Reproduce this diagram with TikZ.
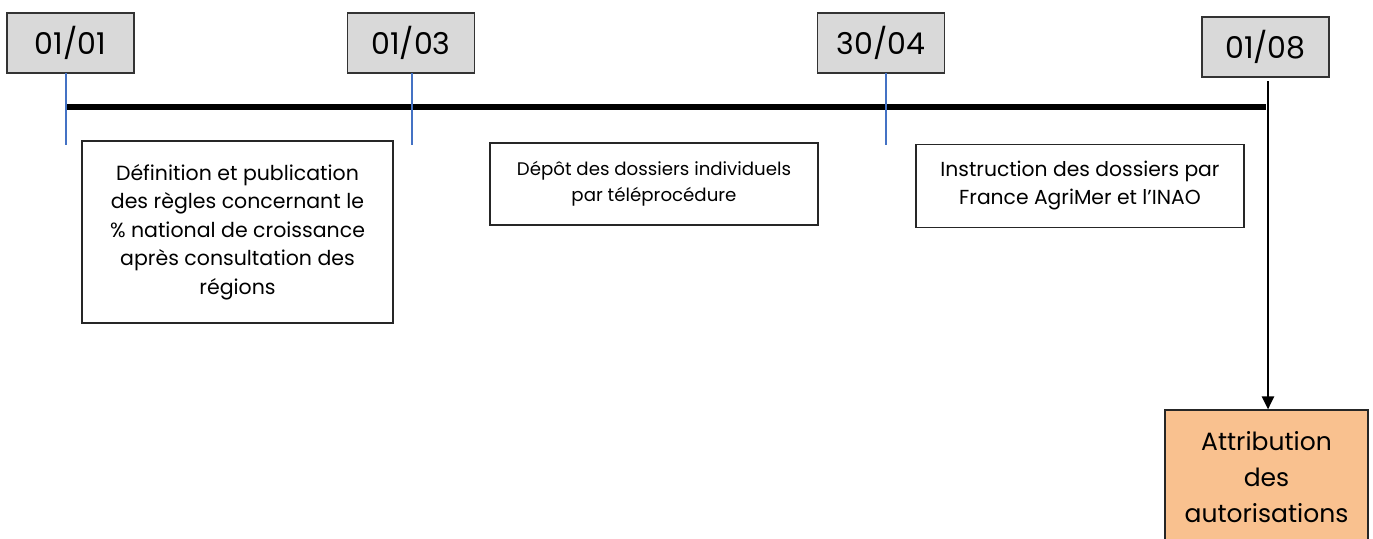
\documentclass[tikz,border=0pt]{standalone}
\usepackage{fontspec}
\setmainfont{Poppins}
\usepackage{tikz}
\usetikzlibrary{arrows.meta,positioning}
\definecolor{dategray}{HTML}{D9D9D9}
\definecolor{peach}{HTML}{F9C18F}
\definecolor{tickblue}{HTML}{4472C4}
\tikzset{
  datebox/.style={draw=black!80, line width=1.2pt, fill=dategray, minimum width=127pt, minimum height=60pt, inner sep=0pt, font=\fontsize{30}{36}\selectfont},
  stagebox/.style={draw=black!85, line width=1.2pt, align=center, inner sep=0pt},
  tick/.style={tickblue, line width=1.6pt},
}
\begin{document}
\begin{tikzpicture}[x=1pt,y=-1pt,>={Triangle[length=13pt,width=12pt]}]
\useasboundingbox (0,0) rectangle (1373,538);
\clip (0,0) rectangle (1373,538);
% Define the dates
\node[datebox] (d1) at (70.5,43) {01/01};
\node[datebox] (d2) at (411,43) {01/03};
\node[datebox] (d3) at (881,43) {30/04};
\node[datebox] (d4) at (1265.5,47) {01/08};

% Define the steps
\node[stagebox, minimum width=311pt, minimum height=182pt, font=\fontsize{20.5}{28.5}\selectfont] (s1) at (237.5,232)
  {Définition et publication\\des règles concernant le\\\% national de croissance\\après consultation des\\régions};
\node[stagebox, minimum width=328pt, minimum height=82pt, font=\fontsize{18.2}{26}\selectfont] (s2) at (654,184)
  {Dépôt des dossiers individuels\\par téléprocédure};
\node[stagebox, minimum width=328pt, minimum height=83pt, font=\fontsize{20.3}{28}\selectfont] (s3) at (1080,186)
  {Instruction des dossiers par\\France AgriMer et l’INAO};
\node[stagebox, fill=peach, minimum width=203pt, minimum height=134pt, font=\fontsize{25}{36}\selectfont] (s4) at (1266.5,477)
  {Attribution\\des\\autorisations};

% Define the ends of the ticks
\coordinate (a1) at (66,73);   \coordinate (b1) at (66,145);
\coordinate (a2) at (412,73);  \coordinate (b2) at (412,145);
\coordinate (a3) at (886,73);  \coordinate (b3) at (886,145);
\coordinate (a4) at (1268,81);
\coordinate (e1) at (66,107);  \coordinate (e2) at (1266,107);

% Draw the time line
\draw[line width=5.5pt] (e1) -- (e2);
\draw[tick] (a1) -- (b1);
\draw[tick] (a2) -- (b2);
\draw[tick] (a3) -- (b3);
\draw[->, line width=2.2pt] (a4) to (s4.north -| a4);
\end{tikzpicture}
\end{document}
